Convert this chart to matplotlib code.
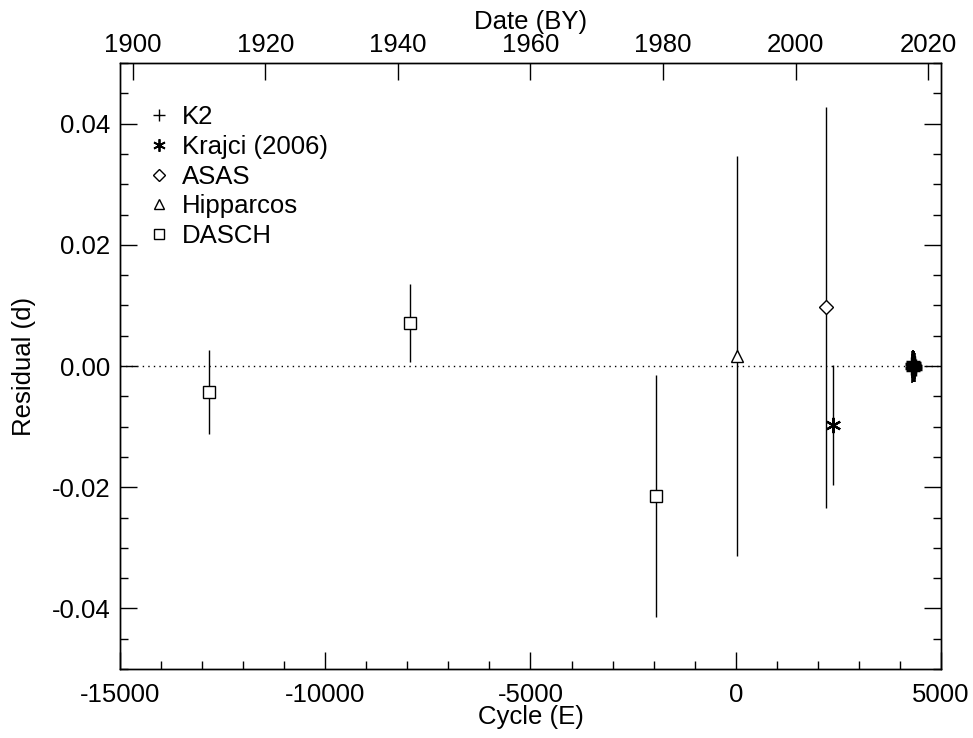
"""O-C residuals vs cycle number, with date on the top axis."""

import matplotlib
matplotlib.use("Agg")
import matplotlib.pyplot as plt
from matplotlib.ticker import MultipleLocator
from matplotlib.lines import Line2D

plt.rcParams["font.family"] = ["Liberation Sans", "DejaVu Sans"]
plt.rcParams["font.size"] = 18.5

# Values: cycle, residual (d), 1-sigma error (d)
dasch_cycle = [-12830, -7930, -1950]
dasch_res = [-0.0043, 0.0071, -0.0215]
dasch_err = [0.0069, 0.0065, 0.0200]

hip_cycle = [20]
hip_res = [0.0017]
hip_err = [0.0330]

asas_cycle = [2200]
asas_res = [0.0097]
asas_err = [0.0331]

krajci_cycle = [2370]
krajci_res = [-0.0098]
krajci_err = [0.0099]

k2_cycle = [4300, 4305, 4310, 4315, 4320, 4325, 4330, 4335, 4340, 4345, 4350, 4355, 4360]
k2_res = [0.0003, -0.0004, 0.0006, -0.0002, 0.0001, -0.0006, 0.0004, -0.0001, 0.0005, -0.0003, 0.0002, -0.0005, 0.0000]
k2_err = [0.0022, 0.0024, 0.0020, 0.0025, 0.0023, 0.0021, 0.0022, 0.0026, 0.0020, 0.0024, 0.0023, 0.0022, 0.0021]

# top axis limits (Besselian year at the cycle-axis edges)
CYCLE_LIM = (-15000, 5000)
YEAR_LIM = (1898.1, 2021.9)

fig = plt.figure(figsize=(9.73, 7.38), dpi=100)
ax = fig.add_axes([0.1233, 0.0935, 0.8438, 0.8211])

ax.axhline(0, color="black", linestyle=(0, (1, 3)), linewidth=1.0, zorder=1)

ekw = dict(linestyle="none", ecolor="black", elinewidth=1.0, capsize=0,
           color="black", markerfacecolor="white", markeredgewidth=1.0, zorder=3)
ax.errorbar(dasch_cycle, dasch_res, yerr=dasch_err, marker="s", markersize=9, **ekw)
ax.errorbar(hip_cycle, hip_res, yerr=hip_err, marker="^", markersize=9, **ekw)
ax.errorbar(asas_cycle, asas_res, yerr=asas_err, marker="D", markersize=7, **ekw)
ax.errorbar(krajci_cycle, krajci_res, yerr=krajci_err, marker=(6, 2, 0), markersize=11,
            **{**ekw, "markeredgewidth": 1.6})
ax.errorbar(k2_cycle, k2_res, yerr=k2_err, marker="+", markersize=10,
            linestyle="none", ecolor="black", elinewidth=1.2, capsize=0,
            color="black", markeredgewidth=2.5, zorder=4)

ax.set_xlim(*CYCLE_LIM)
ax.set_ylim(-0.05, 0.05)
ax.xaxis.set_major_locator(MultipleLocator(5000))
ax.xaxis.set_minor_locator(MultipleLocator(1000))
ax.yaxis.set_major_locator(MultipleLocator(0.02))
ax.yaxis.set_minor_locator(MultipleLocator(0.005))
ax.yaxis.set_major_formatter(plt.FuncFormatter(lambda v, p: f"{v:.2f}"))
ax.xaxis.set_major_formatter(plt.FuncFormatter(lambda v, p: f"{v:.0f}"))
ax.tick_params(which="both", direction="in", top=False, right=True, width=1.0)
ax.tick_params(which="major", length=12)
ax.tick_params(which="minor", length=6)
ax.tick_params(axis="x", pad=10)
ax.tick_params(axis="y", pad=7)
ax.set_xlabel("Cycle (E)", labelpad=-1)
ax.set_ylabel("Residual (d)", labelpad=11)

top = ax.twiny()
top.set_xlim(*YEAR_LIM)
top.xaxis.set_major_locator(MultipleLocator(20))
top.tick_params(which="both", direction="in", length=12, width=1.0, pad=4)
top.tick_params(which="minor", length=0)
top.set_xlabel("Date (BY)", labelpad=3)

for a in (ax, top):
    for s in a.spines.values():
        s.set_linewidth(1.0)

handles = [
    Line2D([], [], linestyle="none", marker="+", color="black", markersize=8, markeredgewidth=1.0),
    Line2D([], [], linestyle="none", marker=(6, 2, 0), color="black", markersize=9, markeredgewidth=1.3),
    Line2D([], [], linestyle="none", marker="D", color="black", markerfacecolor="white", markersize=6, markeredgewidth=1.0),
    Line2D([], [], linestyle="none", marker="^", color="black", markerfacecolor="white", markersize=7, markeredgewidth=1.0),
    Line2D([], [], linestyle="none", marker="s", color="black", markerfacecolor="white", markersize=7, markeredgewidth=1.0),
]
labels = ["K2", "Krajci (2006)", "ASAS", "Hipparcos", "DASCH"]
ax.legend(handles, labels, loc="upper left", frameon=False, handlelength=0.8,
          handletextpad=0.5, labelspacing=0.22, borderaxespad=0.0,
          bbox_to_anchor=(0.022, 0.947))

fig.savefig("out.png", dpi=100)
